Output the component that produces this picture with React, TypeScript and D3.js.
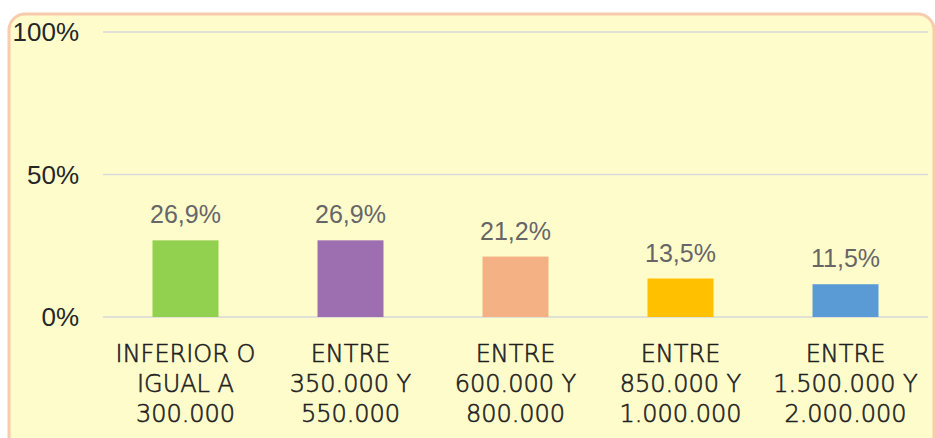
import React from "react";
import * as d3 from "d3";

const categories: string[][] = [
  ["INFERIOR O", "IGUAL A", "300.000"],
  ["ENTRE", "350.000 Y", "550.000"],
  ["ENTRE", "600.000 Y", "800.000"],
  ["ENTRE", "850.000 Y", "1.000.000"],
  ["ENTRE", "1.500.000 Y", "2.000.000"],
];
const values = [26.9, 26.9, 21.2, 13.5, 11.5];
const colors = ["#92d050", "#9e6fb0", "#f4b183", "#ffc000", "#5b9bd5"];
const yTicks = [0, 50, 100];

const W = 935;
const H = 438;
const left = 103;
const right = 928;
const top = 32;
const bottom = 317;

export default function App() {
  const x = d3
    .scaleBand<number>()
    .domain(values.map((_, i) => i))
    .range([left, right])
    .paddingInner(0.6)
    .paddingOuter(0.3);
  const y = d3.scaleLinear().domain([0, 100]).range([bottom, top]);
  const fmt = (v: number) => v.toFixed(1).replace(".", ",") + "%";

  return (
    <svg
      width={W}
      height={H}
      style={{ position: "absolute", left: 0, top: 0, display: "block" }}
    >
      <rect x={0} y={0} width={W} height={H} fill="#ffffff" />
      <rect
        x={9}
        y={14}
        width={W - 10}
        height={H + 20}
        rx={16}
        ry={16}
        fill="#fffccc"
        stroke="#f8cbad"
        strokeWidth={3}
      />
      {yTicks.map((t) => (
        <g key={t}>
          <line
            x1={left}
            x2={right}
            y1={y(t)}
            y2={y(t)}
            stroke="#d9d9d9"
            strokeWidth={1.5}
          />
          <text
            x={79}
            y={y(t)}
            dy="0.36em"
            textAnchor="end"
            fontFamily="Liberation Sans, Arial, sans-serif"
            fontSize={26}
            fill="#262626"
          >
            {t}%
          </text>
        </g>
      ))}
      {values.map((v, i) => (
        <g key={i}>
          <rect
            x={x(i)!}
            y={y(v)}
            width={x.bandwidth()}
            height={y(0) - y(v)}
            fill={colors[i]}
          />
          <text
            x={x(i)! + x.bandwidth() / 2}
            y={y(v) - 17}
            textAnchor="middle"
            fontFamily="Liberation Sans, Arial, sans-serif"
            fontSize={25}
            fill="#666666"
          >
            {fmt(v)}
          </text>
          {categories[i].map((line, j) => (
            <text
              key={j}
              x={x(i)! + x.bandwidth() / 2}
              y={362 + j * 30}
              textAnchor="middle"
              fontFamily="DejaVu Sans, sans-serif"
              fontWeight={200}
              fontSize={24}
              fill="#1f1f1f"
              stroke="#1f1f1f"
              strokeWidth={0.6}
            >
              {line}
            </text>
          ))}
        </g>
      ))}
    </svg>
  );
}
